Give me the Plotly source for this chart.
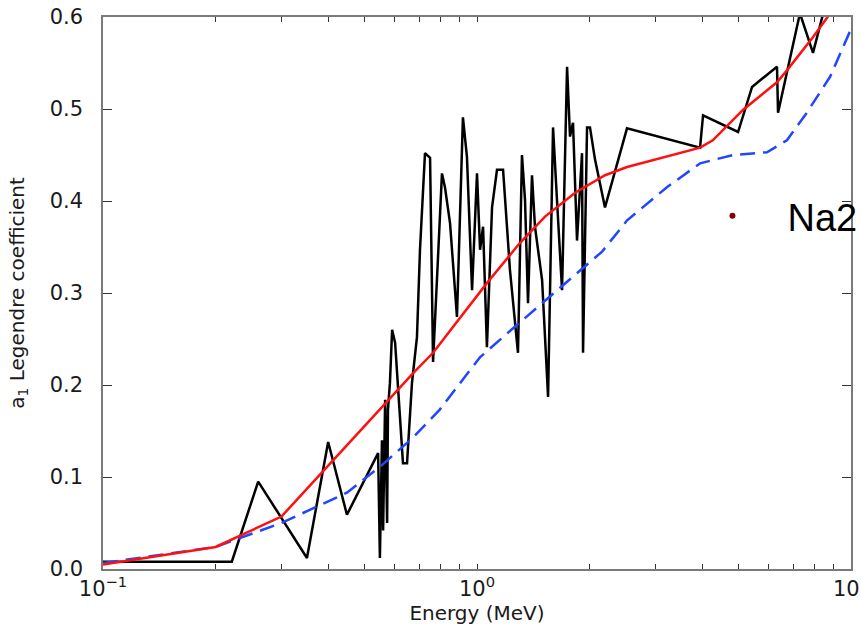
import plotly.graph_objects as go

# ---- data ----
black_E = [0.1, 0.221, 0.26, 0.351, 0.40, 0.449, 0.544, 0.550, 0.557, 0.561, 0.568,
           0.575, 0.578, 0.585, 0.593, 0.604, 0.634, 0.650, 0.670, 0.691, 0.704,
           0.726, 0.749, 0.763, 0.806, 0.821, 0.847, 0.884, 0.917, 0.940, 0.970,
           1.0, 1.019, 1.038, 1.063, 1.097, 1.131, 1.174, 1.225, 1.287, 1.319,
           1.344, 1.369, 1.403, 1.429, 1.493, 1.549, 1.597, 1.637, 1.688, 1.741,
           1.773, 1.806, 1.851, 1.909, 1.921, 1.969, 2.005, 2.068, 2.199, 2.518,
           3.948, 4.022, 4.989, 5.438, 6.341, 6.381, 7.303, 7.914, 8.627, 10.0]
black_a1 = [0.008, 0.008, 0.095, 0.012, 0.138, 0.059, 0.126, 0.012, 0.140, 0.042, 0.184,
            0.050, 0.173, 0.202, 0.260, 0.246, 0.115, 0.115, 0.202, 0.252, 0.347,
            0.452, 0.447, 0.225, 0.430, 0.415, 0.376, 0.274, 0.491, 0.448, 0.303,
            0.430, 0.347, 0.372, 0.241, 0.393, 0.434, 0.434, 0.325, 0.235, 0.450,
            0.401, 0.289, 0.428, 0.372, 0.314, 0.187, 0.480, 0.400, 0.303, 0.546,
            0.470, 0.485, 0.357, 0.452, 0.235, 0.480, 0.480, 0.445, 0.393, 0.479,
            0.458, 0.493, 0.475, 0.524, 0.546, 0.496, 0.604, 0.561, 0.620, 0.680]

red_E = [0.1, 0.2, 0.3, 0.405, 0.55, 0.675, 0.763, 1.064, 1.30, 1.52, 1.83, 2.20,
         2.52, 3.95, 4.27, 5.14, 6.34, 6.74, 7.91, 8.63, 10.0]
red_a1 = [0.005, 0.024, 0.057, 0.115, 0.173, 0.213, 0.235, 0.311, 0.354, 0.383, 0.409,
          0.428, 0.437, 0.458, 0.466, 0.499, 0.529, 0.542, 0.578, 0.600, 0.635]

blue_E = [0.1, 0.2, 0.3, 0.449, 0.55, 0.675, 0.794, 1.018, 1.26, 2.16, 2.52, 3.22,
          3.95, 4.84, 5.96, 6.74, 7.62, 8.79, 9.9, 10.0]
blue_a1 = [0.0065, 0.024, 0.050, 0.083, 0.111, 0.143, 0.173, 0.230, 0.263, 0.345, 0.379,
           0.415, 0.441, 0.450, 0.453, 0.466, 0.496, 0.535, 0.583, 0.585]

x_major_vals = [0.1, 1, 10]
x_major_text = ["10<sup>\u22121</sup>", "10<sup>0</sup>", "10<sup>1</sup>"]
x_minor_vals = [0.2, 0.3, 0.4, 0.5, 0.6, 0.7, 0.8, 0.9, 2, 3, 4, 5, 6, 7, 8, 9]
y_tickvals = [0.0, 0.1, 0.2, 0.3, 0.4, 0.5, 0.6]
y_ticktext = ["0.0", "0.1", "0.2", "0.3", "0.4", "0.5", "0.6"]
legend_name = "Na2"

FONT = "DejaVu Sans"

fig = go.Figure()
fig.add_trace(go.Scatter(x=black_E, y=black_a1, mode="lines",
                         line=dict(color="black", width=2.5), showlegend=False))
fig.add_trace(go.Scatter(x=blue_E, y=blue_a1, mode="lines",
                         line=dict(color="#2146ff", width=2.5, dash="15px,8px"), showlegend=False))
fig.add_trace(go.Scatter(x=red_E, y=red_a1, mode="lines",
                         line=dict(color="#ff1010", width=2.5), showlegend=False))
fig.add_trace(go.Scatter(x=[None], y=[None], mode="markers", name=legend_name,
                         marker=dict(color="#800000", size=6), showlegend=True))

axis_common = dict(showline=True, linecolor="#7a7a7a", linewidth=1.5, mirror="ticks",
                   ticks="inside", tickcolor="#333", showgrid=False, zeroline=False)

fig.update_layout(
    width=861, height=633,
    margin=dict(l=103, r=10, t=17, b=64, autoexpand=False),
    paper_bgcolor="white", plot_bgcolor="white",
    font=dict(family=FONT, color="#1a1a1a"),
    xaxis=dict(type="log", range=[-1, 1], tickmode="array", tickvals=x_major_vals,
               ticktext=x_major_text, ticklen=5, tickfont=dict(size=21, family=FONT),
               ticklabeloverflow="allow",
               minor=dict(tickmode="array", tickvals=x_minor_vals, ticks="inside",
                          ticklen=5, tickcolor="#333", showgrid=False),
               title=dict(text="Energy (MeV)", font=dict(size=20, family=FONT), standoff=2),
               **axis_common),
    yaxis=dict(range=[0, 0.6], tickmode="array", tickvals=y_tickvals, ticktext=y_ticktext,
               ticklen=9, tickfont=dict(size=21, family=FONT), ticklabelstandoff=14,
               ticklabeloverflow="allow",
               title=dict(text="a<sub>1</sub> Legendre coefficient", font=dict(size=20, family=FONT),
                          standoff=20),
               **axis_common),
    legend=dict(x=0.768, y=0.6395, xanchor="left", yanchor="middle",
                font=dict(size=38, family="Liberation Sans", color="black"),
                bgcolor="rgba(0,0,0,0)", borderwidth=0, itemwidth=100),
    showlegend=True,
)

fig.write_html("out.html", config={"displayModeBar": False},
               post_script="document.body.style.margin='0';")
